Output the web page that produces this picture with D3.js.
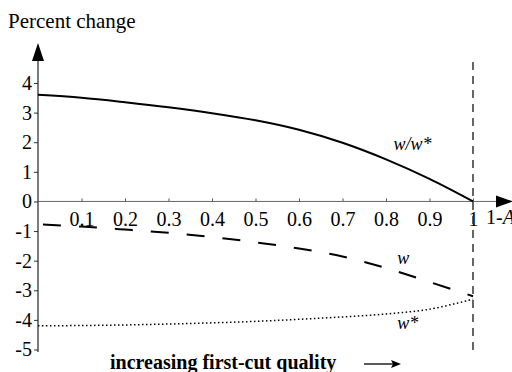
<!DOCTYPE html>
<html lang="en">
<head>
  <meta charset="UTF-8">
  <title>Percent change</title>
  <script src="https://d3js.org/d3.v7.min.js"></script>
  <style>
    * { margin: 0; padding: 0; box-sizing: border-box; }
    body { width: 512px; height: 372px; background: #fff; overflow: hidden; }
    svg text { font-family: "Liberation Serif", "Times New Roman", serif; }
  </style>
</head>
<body>
  <div id="chart"></div>

  <script>
    // values, one per 0.1 step of 1-A
    const xs = [0, 0.1, 0.2, 0.3, 0.4, 0.5, 0.6, 0.7, 0.8, 0.9, 1.0];
    const ratio = [3.6, 3.5, 3.35, 3.18, 2.98, 2.74, 2.42, 1.98, 1.42, 0.76, 0.0];   // w/w*
    const wage = [-0.77, -0.85, -0.95, -1.06, -1.2, -1.38, -1.59, -1.86, -2.25, -2.72, -3.2]; // w
    const wStar = [-4.2, -4.19, -4.17, -4.14, -4.1, -4.05, -3.98, -3.9, -3.8, -3.64, -3.3];  // w*
    const xTicks = [0.1, 0.2, 0.3, 0.4, 0.5, 0.6, 0.7, 0.8, 0.9, 1];
    const yTicks = [-5, -4, -3, -2, -1, 0, 1, 2, 3, 4];

    const width = 512, height = 372;
    const x = d3.scaleLinear().domain([0, 1]).range([38, 473]);
    const y = d3.scaleLinear().domain([-5, 4]).range([349.5, 83]);

    const svg = d3.select('#chart').append('svg')
      .attr('width', width)
      .attr('height', height);

    // y axis
    const yAxis = svg.append('g')
      .attr('transform', `translate(${x(0)},0)`)
      .call(d3.axisLeft(y).tickValues(yTicks).tickSize(4).tickPadding(2).tickFormat(d => String(d)));
    yAxis.attr('font-family', null).attr('font-size', null);
    yAxis.select('.domain').remove();
    yAxis.selectAll('text').style('font-size', '20px');
    yAxis.selectAll('line').attr('stroke', '#333');

    // x axis at zero
    const xAxis = svg.append('g')
      .attr('transform', `translate(0,${y(0)})`)
      .call(d3.axisBottom(x).tickValues(xTicks).tickSize(-3).tickPadding(10).tickFormat(d => String(d)));
    xAxis.attr('font-family', null).attr('font-size', null);
    xAxis.select('.domain').remove();
    xAxis.selectAll('text').style('font-size', '20px');
    xAxis.selectAll('line').attr('stroke', '#555');

    // axis lines with arrow heads
    svg.append('line')
      .attr('x1', x(0)).attr('x2', x(0))
      .attr('y1', 55).attr('y2', 352)
      .attr('stroke', '#222').attr('stroke-width', 1.2);
    svg.append('path')
      .attr('d', `M${x(0)},43 L${x(0) - 6},61 L${x(0) + 6},61 Z`)
      .attr('fill', '#000');

    svg.append('line')
      .attr('x1', x(0)).attr('x2', 500)
      .attr('y1', y(0)).attr('y2', y(0))
      .attr('stroke', '#666').attr('stroke-width', 1);
    svg.append('path')
      .attr('d', `M513,${y(0)} L496,${y(0) - 6} L496,${y(0) + 6} Z`)
      .attr('fill', '#000');

    svg.append('text')
      .attr('x', 486).attr('y', y(0) + 23)
      .style('font-size', '20px')
      .text('1-')
      .append('tspan').attr('font-style', 'italic').text('A');

    // vertical dashed line at 1
    svg.append('line')
      .attr('x1', x(1)).attr('x2', x(1))
      .attr('y1', 62).attr('y2', 350)
      .attr('stroke', '#333').attr('stroke-width', 1.5)
      .attr('stroke-dasharray', '8,6');

    // curves
    const line = d3.line()
      .x((d, i) => x(xs[i]))
      .y(d => y(d))
      .curve(d3.curveCatmullRom);

    svg.append('path')
      .attr('d', line(ratio))
      .attr('fill', 'none').attr('stroke', '#000').attr('stroke-width', 2);

    svg.append('path')
      .attr('d', line(wage))
      .attr('fill', 'none').attr('stroke', '#000').attr('stroke-width', 2)
      .attr('stroke-dasharray', '18,18')
      .attr('stroke-dashoffset', -5);

    svg.append('path')
      .attr('d', line(wStar))
      .attr('fill', 'none').attr('stroke', '#000').attr('stroke-width', 1.5)
      .attr('stroke-dasharray', '1.5,2.5');

    // curve labels
    const labels = [
      { t: 'w/w*', x: 0.817, v: 1.75 },
      { t: 'w', x: 0.826, v: -2.1 },
      { t: 'w*', x: 0.826, v: -4.3 }
    ];
    svg.selectAll('.lbl')
      .data(labels)
      .enter().append('text')
      .attr('class', 'lbl')
      .attr('x', d => x(d.x))
      .attr('y', d => y(d.v))
      .style('font-size', '18px')
      .attr('font-style', 'italic')
      .text(d => d.t);

    // titles
    svg.append('text')
      .attr('x', 8).attr('y', 28)
      .style('font-size', '21px')
      .text('Percent change');

    svg.append('text')
      .attr('x', 110).attr('y', 369)
      .style('font-size', '20px')
      .attr('font-weight', 'bold')
      .text('increasing first-cut quality');

    svg.append('line')
      .attr('x1', 364).attr('x2', 394)
      .attr('y1', 364).attr('y2', 364)
      .attr('stroke', '#000').attr('stroke-width', 1.3);
    svg.append('path')
      .attr('d', 'M401,364 L391,360 L393,364 L391,368 Z')
      .attr('fill', '#000');
  </script>
</body>
</html>
